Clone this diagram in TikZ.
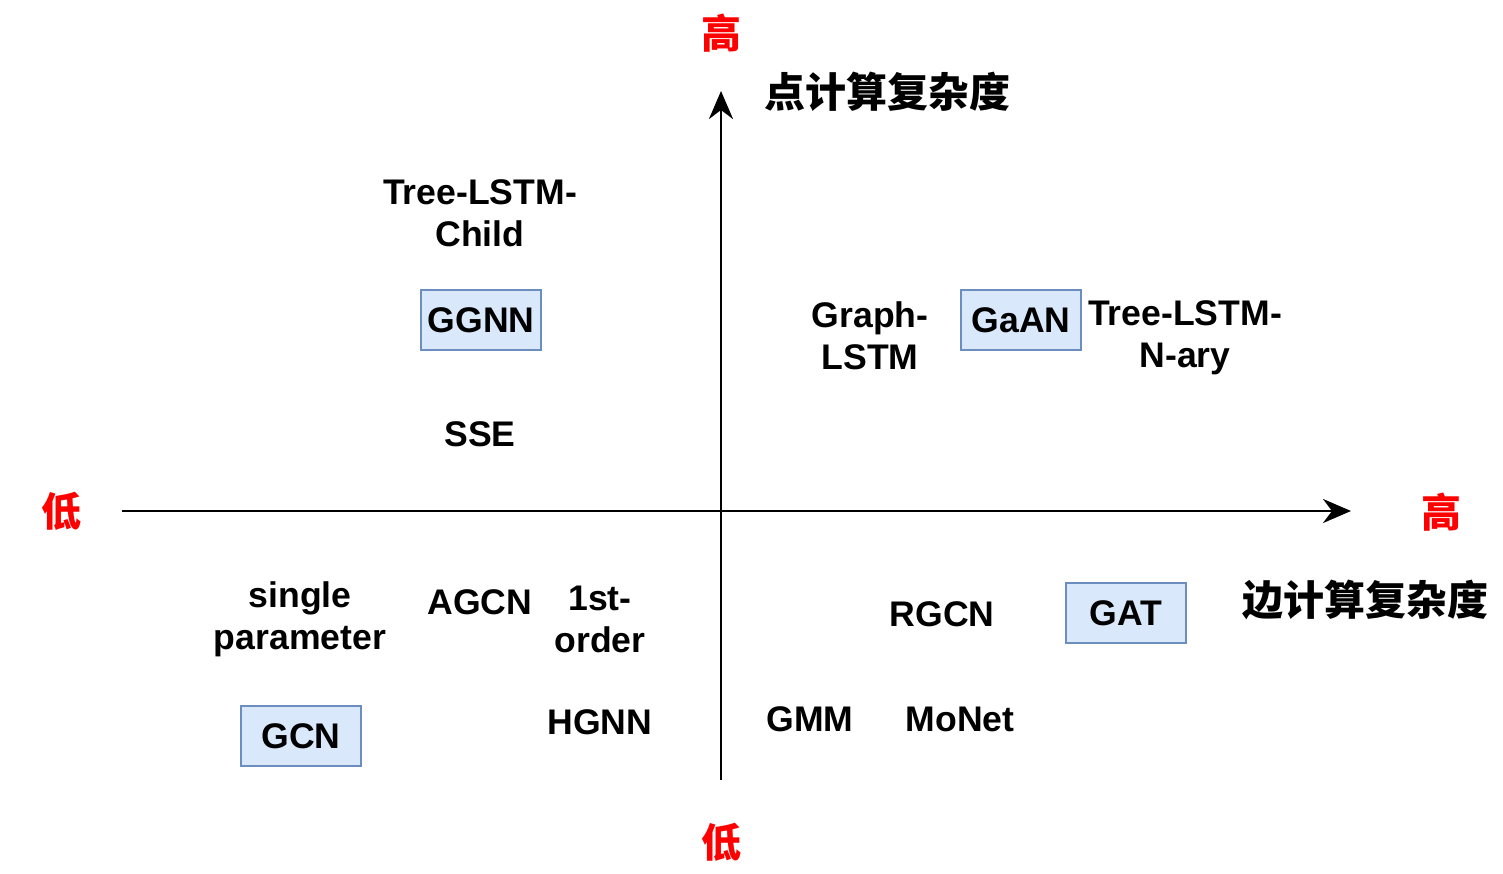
\documentclass[tikz,border=0pt]{standalone}
\usepackage{fontspec}
\setmainfont{Liberation Sans}
\newfontfamily\cjk{Noto Sans CJK SC}
\usetikzlibrary{arrows.meta}
\definecolor{boxfill}{HTML}{DAE8FC}
\definecolor{boxline}{HTML}{6C8EBF}
\definecolor{lowhigh}{HTML}{FF0000}
\begin{document}
\begin{tikzpicture}[x=0.5pt,y=-0.5pt,
  lbl/.style={font=\fontsize{17.8pt}{21pt}\selectfont\bfseries, align=center, inner sep=0pt},
  mbox/.style={lbl, draw=boxline, fill=boxfill, line width=1pt, minimum width=60pt, minimum height=30pt},
  axis/.style={line width=1.4pt, -{Stealth[length=14pt,width=12pt,inset=4.5pt]}},
  cjklbl/.style={font=\cjk\fontsize{20.5pt}{24pt}\selectfont\bfseries, inner sep=0pt},
  redlbl/.style={font=\cjk\fontsize{20pt}{24pt}\selectfont\bfseries, text=lowhigh, inner sep=0pt}]
\useasboundingbox (0,0) rectangle (1503,873);
% axes
\coordinate (xs) at (122,511);
\coordinate (xe) at (1351,511);
\coordinate (ys) at (721,780);
\coordinate (ye) at (721,91);
\draw[axis] (xs) -- (xe);
\draw[axis] (ys) -- (ye);
% axis labels
\node[redlbl] (hitop) at (721,33) {高};
\node[cjklbl] (ylab) at (887,92) {点计算复杂度};
\node[redlbl] (lowleft) at (61,511) {低};
\node[redlbl] (hiright) at (1441,512) {高};
\node[cjklbl] (xlab) at (1365,600) {边计算复杂度};
\node[redlbl] (lowbot) at (721,842) {低};
% upper left
\node[lbl] (treechild) at (480,213) {Tree-LSTM-\\Child};
\node[mbox] (ggnn) at (481,320) {GGNN};
\node[lbl] (sse) at (480,434) {SSE};
% upper right
\node[lbl] (glstm) at (870,336) {Graph-\\LSTM};
\node[mbox] (gaan) at (1021,320) {GaAN};
\node[lbl] (treenary) at (1185,338) {Tree-LSTM-\\N-ary};
% lower left
\node[lbl] (single) at (300,619) {single\\parameter};
\node[lbl] (agcn) at (480,602) {AGCN};
\node[lbl] (first) at (600,619) {1st-\\order};
\node[mbox] (gcn) at (301,736) {GCN};
\node[lbl] (hgnn) at (600,722) {HGNN};
% lower right
\node[lbl] (rgcn) at (942,614) {RGCN};
\node[mbox] (gat) at (1126,613) {GAT};
\node[lbl] (gmm) at (810,719) {GMM};
\node[lbl] (monet) at (960,719) {MoNet};
\end{tikzpicture}
\end{document}
